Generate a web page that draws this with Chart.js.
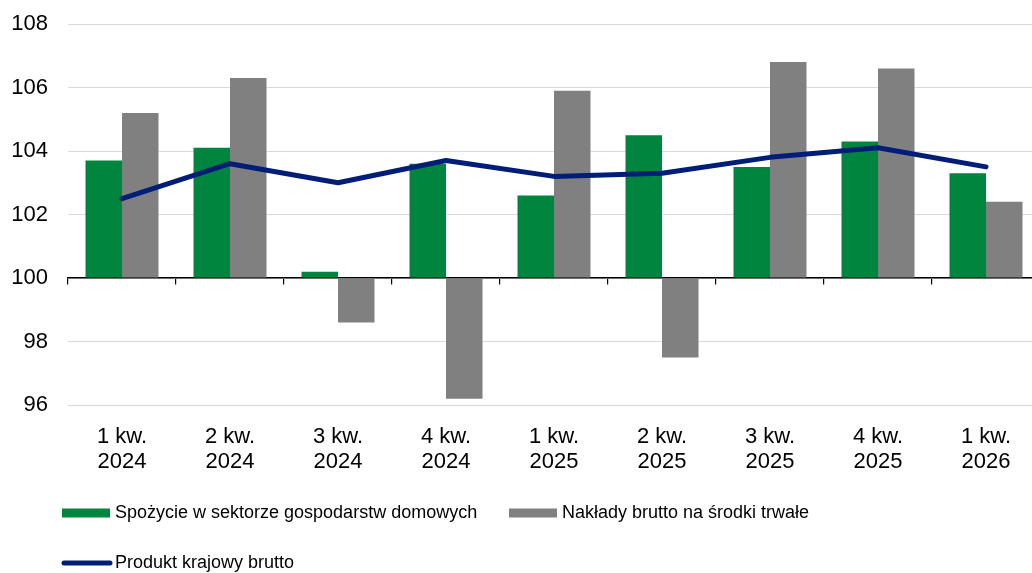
<!DOCTYPE html>
<html>
<head>
<meta charset="utf-8">
<script src="https://cdn.jsdelivr.net/npm/chart.js@4/dist/chart.umd.min.js"></script>
<style>
  html, body { margin: 0; padding: 0; background: #fff; overflow: hidden; width: 1032px; height: 573px; }
  #wrap { width: 1040px; height: 573px; }
</style>
</head>
<body>
<div id="wrap"><canvas id="c" width="1040" height="573"></canvas></div>
<script>
const categories = [["1 kw.","2024"],["2 kw.","2024"],["3 kw.","2024"],["4 kw.","2024"],["1 kw.","2025"],["2 kw.","2025"],["3 kw.","2025"],["4 kw.","2025"],["1 kw.","2026"]];
const consumption = [103.7, 104.1, 100.2, 103.6, 102.6, 104.5, 103.5, 104.3, 103.3];
const investment  = [105.2, 106.3, 98.6, 96.2, 105.9, 97.5, 106.8, 106.6, 102.4];
const gdp         = [102.5, 103.6, 103.0, 103.7, 103.2, 103.3, 103.8, 104.1, 103.5];
const seriesNames = ["Spożycie w sektorze gospodarstw domowych", "Nakłady brutto na środki trwałe", "Produkt krajowy brutto"];
const yTicks = [96, 98, 100, 102, 104, 106, 108];

const GREEN = "#00853F", GRAY = "#808080", NAVY = "#001E78";
const FONT = "'Liberation Sans', Arial, sans-serif";

const legendPlugin = {
  id: 'customLegend',
  afterDraw(chart) {
    const ctx = chart.ctx;
    const items = [
      {text: seriesNames[0], color: GREEN, type: 'box', x: 62, y: 513},
      {text: seriesNames[1], color: GRAY, type: 'box', x: 509, y: 513},
      {text: seriesNames[2], color: NAVY, type: 'line', x: 62, y: 563}
    ];
    ctx.save();
    ctx.font = "18px " + FONT;
    ctx.textBaseline = 'middle';
    ctx.textAlign = 'left';
    items.forEach(it => {
      if (it.type === 'box') {
        ctx.fillStyle = it.color;
        ctx.fillRect(it.x, it.y - 4.5, 48, 9);
      } else {
        ctx.strokeStyle = it.color;
        ctx.lineWidth = 5;
        ctx.lineCap = 'round';
        ctx.beginPath();
        ctx.moveTo(it.x + 2, it.y);
        ctx.lineTo(it.x + 48, it.y);
        ctx.stroke();
      }
      ctx.fillStyle = '#000';
      ctx.fillText(it.text, it.x + 53, it.y);
    });
    ctx.restore();
  }
};

new Chart(document.getElementById('c'), {
  type: 'bar',
  data: {
    labels: categories,
    datasets: [
      {type: 'line', label: seriesNames[2], data: gdp, borderColor: NAVY, backgroundColor: NAVY,
       borderWidth: 5, pointRadius: 0, tension: 0, borderCapStyle: 'round', borderJoinStyle: 'round', order: 0},
      {label: seriesNames[0], data: consumption, backgroundColor: GREEN, base: 100,
       categoryPercentage: 0.676, barPercentage: 1.0, order: 1},
      {label: seriesNames[1], data: investment, backgroundColor: GRAY, base: 100,
       categoryPercentage: 0.676, barPercentage: 1.0, order: 2}
    ]
  },
  options: {
    responsive: false,
    animation: false,
    devicePixelRatio: 1,
    layout: { padding: { left: 11, top: 24, right: 0, bottom: 101 } },
    plugins: { legend: { display: false }, tooltip: { enabled: false } },
    scales: {
      x: {
        position: 'bottom',
        grid: { display: false, drawTicks: false },
        border: { display: false },
        ticks: { font: { family: FONT, size: 22, lineHeight: 1.14 }, color: '#000', padding: 19, maxRotation: 0, autoSkip: false },
        afterFit(scale) { scale.height = 67; scale.paddingLeft = 0; scale.paddingRight = 0; }
      },
      x2: {
        type: 'category',
        position: { y: 100 },
        offset: true,
        grid: { display: true, drawOnChartArea: false, drawTicks: true, tickLength: 6, color: '#000', lineWidth: 1.2, offset: true },
        border: { display: true, color: '#000', width: 1.5 },
        ticks: { display: false }
      },
      y: {
        min: 96, max: 108,
        afterBuildTicks(scale) { scale.ticks = yTicks.map(v => ({value: v})); },
        grid: { color: '#d9d9d9', lineWidth: 1, drawTicks: false },
        border: { display: false },
        ticks: { font: { family: FONT, size: 22 }, color: '#000', padding: 20 },
        afterFit(scale) { scale.width = 57; scale.paddingTop = 0; scale.paddingBottom = 0; }
      }
    }
  },
  plugins: [legendPlugin]
});
</script>
</body>
</html>
